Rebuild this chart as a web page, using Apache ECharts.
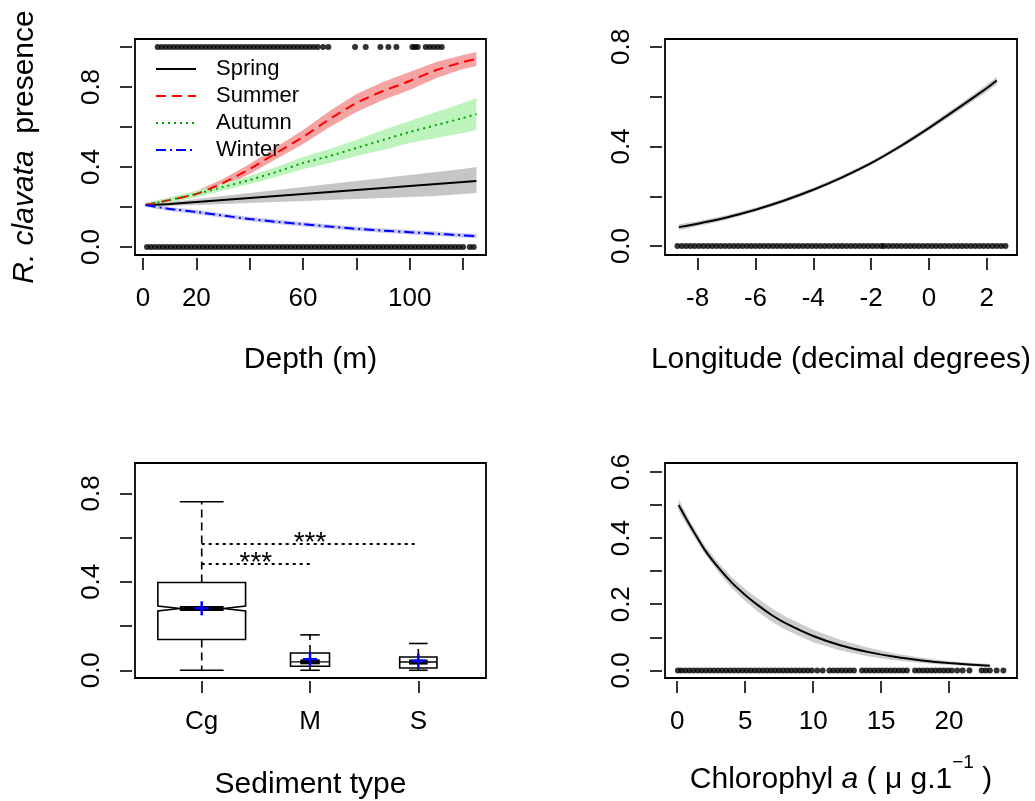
<!DOCTYPE html>
<html><head><meta charset="utf-8">
<script src="https://cdn.jsdelivr.net/npm/echarts@6/dist/echarts.min.js"></script>
<style>html,body{margin:0;padding:0;background:#fff}#c{width:1035px;height:801px}</style>
</head><body><div id="c"></div><script>
// ---------------- DATA ----------------
// Panel A: depth (m) vs presence, by season
const depthX      = [1, 10, 20, 30, 40, 50, 60, 70, 80, 90, 100, 110, 120, 125];
const springMean  = [0.21, 0.215, 0.225, 0.235, 0.245, 0.255, 0.265, 0.275, 0.285, 0.295, 0.305, 0.315, 0.325, 0.33];
const springLo    = [0.20, 0.205, 0.21, 0.215, 0.22, 0.225, 0.23, 0.235, 0.24, 0.245, 0.25, 0.255, 0.265, 0.27];
const springHi    = [0.22, 0.225, 0.24, 0.255, 0.27, 0.285, 0.30, 0.315, 0.33, 0.345, 0.36, 0.375, 0.39, 0.40];
const summerMean  = [0.21, 0.235, 0.265, 0.32, 0.39, 0.47, 0.55, 0.64, 0.72, 0.78, 0.83, 0.885, 0.925, 0.94];
const summerLo    = [0.20, 0.223, 0.25, 0.30, 0.365, 0.44, 0.515, 0.60, 0.675, 0.735, 0.785, 0.845, 0.89, 0.905];
const summerHi    = [0.22, 0.247, 0.28, 0.34, 0.415, 0.50, 0.585, 0.68, 0.765, 0.825, 0.875, 0.925, 0.96, 0.975];
const autumnMean  = [0.21, 0.235, 0.265, 0.30, 0.335, 0.375, 0.42, 0.455, 0.495, 0.535, 0.575, 0.61, 0.645, 0.665];
const autumnLo    = [0.20, 0.223, 0.25, 0.282, 0.315, 0.35, 0.39, 0.42, 0.455, 0.485, 0.52, 0.545, 0.57, 0.585];
const autumnHi    = [0.22, 0.247, 0.28, 0.318, 0.355, 0.40, 0.45, 0.49, 0.535, 0.585, 0.63, 0.675, 0.72, 0.745];
const winterMean  = [0.21, 0.19, 0.175, 0.157, 0.14, 0.126, 0.114, 0.102, 0.091, 0.082, 0.074, 0.066, 0.058, 0.055];
const winterLo    = [0.20, 0.18, 0.164, 0.146, 0.129, 0.115, 0.103, 0.091, 0.08, 0.071, 0.063, 0.055, 0.047, 0.044];
const winterHi    = [0.22, 0.20, 0.186, 0.168, 0.151, 0.137, 0.125, 0.113, 0.102, 0.093, 0.085, 0.077, 0.069, 0.066];
const depthPresent = [5.5,7,8.5,10,11.5,13,14.5,16,17.5,19,20.5,22,23.5,25,26.5,28,29.5,31,32.5,34,35.5,37,38.5,40,41.5,43,44.5,46,47.5,49,50.5,52,53.5,55,56.5,58,59.5,61,62.5,64,65.5,67.5,69.5,79.5,83.5,89,92,95,101,102,103,106,107.5,109,110.5,112];
const depthAbsent  = [1.5,3,4.5,6,7.5,9,10.5,12,13.5,15,16.5,18,19.5,21,22.5,24,25.5,27,28.5,30,31.5,33,34.5,36,37.5,39,40.5,42,43.5,45,46.5,48,49.5,51,52.5,54,55.5,57,58.5,60,61.5,63,64.5,66,67.5,69,70.5,72,73.5,75,76.5,78,79.5,81,82.5,84,85.5,87,88.5,90,91.5,93,94.5,96,97.5,99,100.5,102,103.5,105,106.5,108,109.5,111,112.5,114,115.5,117,118.5,120,122.5,124];
const depthTicks = [0, 20, 40, 60, 80, 100, 120];
const depthLabels = [0, 20, 60, 100];
const presTicks = [0, 0.2, 0.4, 0.6, 0.8, 1.0];
const presLabels = [0, 0.4, 0.8];
const seasons = ['Spring', 'Summer', 'Autumn', 'Winter'];

// Panel B: longitude
const lonX    = [-8.65, -8, -7, -6, -5, -4, -3, -2, -1, 0, 1, 2, 2.35];
const lonMean = [0.076, 0.09, 0.115, 0.146, 0.183, 0.226, 0.276, 0.333, 0.40, 0.474, 0.553, 0.634, 0.665];
const lonLo   = [0.064, 0.08, 0.106, 0.138, 0.175, 0.218, 0.268, 0.325, 0.391, 0.464, 0.541, 0.62, 0.65];
const lonHi   = [0.088, 0.10, 0.124, 0.154, 0.191, 0.234, 0.284, 0.341, 0.409, 0.484, 0.565, 0.648, 0.68];
const lonAbsent = [-8.7,-8.55,-8.4,-8.25,-8.1,-7.95,-7.8,-7.65,-7.5,-7.35,-7.2,-7.05,-6.9,-6.75,-6.6,-6.45,-6.3,-6.15,-6,-5.85,-5.7,-5.55,-5.4,-5.25,-5.1,-4.95,-4.8,-4.65,-4.5,-4.35,-4.2,-4.05,-3.9,-3.75,-3.6,-3.45,-3.3,-3.15,-3,-2.85,-2.7,-2.55,-2.4,-2.25,-2.1,-1.95,-1.8,-1.65,-1.55,-1.4,-1.25,-1.1,-0.95,-0.8,-0.65,-0.5,-0.35,-0.2,-0.05,0.1,0.25,0.4,0.55,0.7,0.85,1,1.15,1.3,1.45,1.6,1.75,1.9,2.05,2.2,2.35,2.5,2.65];
const lonTicks = [-8, -6, -4, -2, 0, 2];
const lonYTicks = [0, 0.2, 0.4, 0.6, 0.8];
const lonYLabels = [0, 0.4, 0.8];

// Panel C: sediment type boxplots [wLow, Q1, median, Q3, wHigh, mean]
const sedCats  = ['Cg', 'M', 'S'];
const sedStats = [
  [0.0, 0.139, 0.279, 0.397, 0.762, 0.28],
  [0.0, 0.018, 0.038, 0.078, 0.160, 0.05],
  [0.0, 0.010, 0.037, 0.060, 0.121, 0.043]
];
const sigPairs = [[1, 3, 0.571], [1, 2, 0.48]];   // [from cat, to cat, height]
const sigText = '***';
const sedYTicks = [0, 0.2, 0.4, 0.6, 0.8];
const sedYLabels = [0, 0.4, 0.8];

// Panel D: chlorophyll a
const chlX    = [0.1, 1, 2, 3, 4, 5, 6, 7, 8, 10, 12, 14, 16, 18, 20, 23];
const chlMean = [0.50, 0.434, 0.366, 0.312, 0.266, 0.228, 0.195, 0.166, 0.142, 0.104, 0.076, 0.056, 0.041, 0.030, 0.022, 0.014];
const chlLo   = [0.482, 0.42, 0.354, 0.298, 0.25, 0.21, 0.175, 0.146, 0.122, 0.085, 0.06, 0.043, 0.031, 0.022, 0.016, 0.01];
const chlHi   = [0.518, 0.448, 0.379, 0.327, 0.282, 0.246, 0.215, 0.186, 0.162, 0.123, 0.093, 0.069, 0.051, 0.038, 0.028, 0.019];
const chlAbsent = [0.05,0.3,0.6,0.9,1.2,1.5,1.8,2.1,2.4,2.7,3,3.3,3.6,3.9,4.2,4.5,4.8,5.1,5.4,5.7,6,6.3,6.6,6.9,7.2,7.5,7.8,8.1,8.4,8.7,9,9.3,9.6,9.9,10.3,10.7,11.2,11.5,11.8,12.1,12.4,12.7,13.0,13.6,13.9,14.2,14.5,14.8,15.1,15.4,15.7,16.0,16.3,16.6,16.9,17.5,17.8,18.1,18.4,18.7,19.0,19.3,19.6,19.9,20.2,20.6,21.0,21.5,22.4,22.7,23.0,23.5,24.0];
const chlTicks = [0, 5, 10, 15, 20];
const chlYTicks = [0, 0.1, 0.2, 0.3, 0.4, 0.5, 0.6];
const chlYLabels = [0, 0.2, 0.4, 0.6];

// ---------------- STYLE / BUILD ----------------
const FONT = "'Liberation Sans', Arial, sans-serif";
const TICK_FS = 26, TITLE_FS = 30;
const chart = echarts.init(document.getElementById('c'));

const gridBase = {show: true, borderColor: '#000', borderWidth: 1.8, backgroundColor: 'transparent', containLabel: false, outerBoundsMode: 'none'};
const grids = [
  Object.assign({left: 135, top: 39, width: 351, height: 216}, gridBase),
  Object.assign({left: 665, top: 39, width: 352, height: 216}, gridBase),
  Object.assign({left: 135, top: 463, width: 351, height: 215}, gridBase),
  Object.assign({left: 665, top: 463, width: 352, height: 215}, gridBase)
];

function xAx(g, min, max, ticks, labels, fmt, name, gap, nameStyle) {
  return {
    type: 'value', gridIndex: g, min, max, offset: 3, position: 'bottom',
    axisLine: {show: false, onZero: false}, splitLine: {show: false},
    axisTick: {show: true, length: 12, customValues: ticks, lineStyle: {color: '#000', width: 1.6}},
    axisLabel: {customValues: labels, formatter: fmt, color: '#000', fontSize: TICK_FS, fontFamily: FONT, margin: 28},
    name, nameLocation: 'middle', nameGap: gap,
    nameTextStyle: Object.assign({color: '#000', fontSize: TITLE_FS, fontFamily: FONT}, nameStyle || {})
  };
}
function yAx(g, min, max, ticks, labels, extra) {
  return Object.assign({
    type: 'value', gridIndex: g, min, max, offset: 3, position: 'left',
    axisLine: {show: false, onZero: false}, splitLine: {show: false},
    axisTick: {show: true, length: 12, customValues: ticks, lineStyle: {color: '#000', width: 1.6}},
    axisLabel: {customValues: labels, formatter: v => Number(v).toFixed(1), rotate: 90, color: '#000', fontSize: TICK_FS, fontFamily: FONT, margin: 27}
  }, extra || {});
}

const xAxes = [
  xAx(0, -3, 128.6, depthTicks, depthLabels, v => String(v), 'Depth (m)', 87),
  xAx(1, -9.13, 3.05, lonTicks, lonTicks, v => String(v), 'Longitude (decimal degrees)', 87),
  xAx(2, 0.384, 3.625, [1, 2, 3], [1, 2, 3], v => sedCats[Math.round(v) - 1], 'Sediment type', 89),
  xAx(3, -0.9, 25, chlTicks, chlTicks, v => String(v), '{n|Chlorophyl }{i|a}{n| ( \u03bc g.1}{s|\u22121}{n| )}', 72,
      {rich: {n: {fontSize: TITLE_FS, fontFamily: FONT, color: '#000', lineHeight: 42, verticalAlign: 'bottom'},
              i: {fontSize: TITLE_FS, fontFamily: FONT, fontStyle: 'italic', color: '#000', lineHeight: 42, verticalAlign: 'bottom'},
              s: {fontSize: 19, fontFamily: FONT, color: '#000', lineHeight: 22, verticalAlign: 'top'}}})
];
const yAxes = [
  yAx(0, -0.04, 1.04, presTicks, presLabels, {
    name: '{i|R. clavata}  presence', nameLocation: 'middle', nameRotate: 90, nameGap: 92,
    nameTextStyle: {color: '#000', fontSize: TITLE_FS, fontFamily: FONT,
      rich: {i: {fontStyle: 'italic', fontSize: TITLE_FS, fontFamily: FONT, color: '#000'}}}
  }),
  yAx(1, -0.036, 0.832, lonYTicks, lonYLabels),
  yAx(2, -0.035, 0.937, sedYTicks, sedYLabels),
  yAx(3, -0.023, 0.627, chlYTicks, chlYLabels)
];

const pairs = (xs, ys) => xs.map((x, i) => [x, ys[i]]);
function band(g, xs, lo, hi, color) {
  return {
    type: 'custom', xAxisIndex: g, yAxisIndex: g, silent: true, z: 1,
    data: [[xs[0], lo[0]]],
    renderItem: (params, api) => {
      const pts = xs.map((x, i) => api.coord([x, hi[i]]))
        .concat(xs.map((x, i) => api.coord([x, lo[i]])).reverse());
      return {type: 'polygon', shape: {points: pts}, style: {fill: color, stroke: null}};
    }
  };
}
function curve(g, name, xs, ys, color, type) {
  return {
    type: 'line', name, xAxisIndex: g, yAxisIndex: g, data: pairs(xs, ys),
    symbol: 'none', showSymbol: false, smooth: 0.2, silent: true, z: 3,
    lineStyle: {color, width: 2, type}, itemStyle: {color}
  };
}
function rug(g, xs, y) {
  return {
    type: 'scatter', xAxisIndex: g, yAxisIndex: g, data: xs.map(x => [x, y]),
    symbol: 'circle', symbolSize: 6, itemStyle: {color: '#000'}, silent: true, z: 4
  };
}

const BOX_HALF = [0.405, 0.18, 0.172];
const NOTCH_H = [0.011, 0, 0];
const boxSeries = {
  type: 'custom', xAxisIndex: 2, yAxisIndex: 2, silent: true, z: 3,
  data: sedStats.map((s, i) => [i + 1].concat(s)),
  renderItem: (params, api) => {
    const i = params.dataIndex;
    const x = api.value(0), wlo = api.value(1), q1 = api.value(2), med = api.value(3),
          q3 = api.value(4), whi = api.value(5), mean = api.value(6);
    const hw = BOX_HALF[i], nh = NOTCH_H[i];
    const C = (a, b) => api.coord([a, b]);
    const ls = {stroke: '#000', lineWidth: 1.6, fill: null};
    const kids = [];
    let pts;
    if (nh > 0) {
      pts = [C(x - hw, q1), C(x - hw, med - nh), C(x - hw / 2, med), C(x - hw, med + nh), C(x - hw, q3),
             C(x + hw, q3), C(x + hw, med + nh), C(x + hw / 2, med), C(x + hw, med - nh), C(x + hw, q1)];
    } else {
      pts = [C(x - hw, q1), C(x - hw, q3), C(x + hw, q3), C(x + hw, q1)];
      const a = C(x - hw, med), b = C(x + hw, med);
      kids.push({type: 'line', shape: {x1: a[0], y1: a[1], x2: b[0], y2: b[1]}, style: {stroke: '#000', lineWidth: 1.4}, z2: 1});
    }
    kids.push({type: 'polygon', shape: {points: pts}, style: {fill: '#fff', stroke: '#000', lineWidth: 1.6}, z2: 0});
    const seg = (p1, p2, st) => ({type: 'line', shape: {x1: p1[0], y1: p1[1], x2: p2[0], y2: p2[1]}, style: st, z2: 2});
    const dash = Object.assign({}, ls, {lineDash: [8, 5]});
    kids.push(seg(C(x, q3), C(x, whi), dash));
    kids.push(seg(C(x, q1), C(x, wlo), dash));
    kids.push(seg(C(x - hw / 2, whi), C(x + hw / 2, whi), ls));
    kids.push(seg(C(x - hw / 2, wlo), C(x + hw / 2, wlo), ls));
    kids.push(seg(C(x - hw / 2, med), C(x + hw / 2, med), {stroke: '#000', lineWidth: 5}));
    const m = C(x, mean);
    kids.push({type: 'line', shape: {x1: m[0] - 7, y1: m[1], x2: m[0] + 7, y2: m[1]}, style: {stroke: '#0000FF', lineWidth: 2.5}, z2: 5});
    kids.push({type: 'line', shape: {x1: m[0], y1: m[1] - 7, x2: m[0], y2: m[1] + 7}, style: {stroke: '#0000FF', lineWidth: 2.5}, z2: 5});
    return {type: 'group', children: kids};
  }
};
const sigSeries = {
  type: 'custom', xAxisIndex: 2, yAxisIndex: 2, silent: true, z: 4,
  data: sigPairs,
  renderItem: (params, api) => {
    const a = api.coord([api.value(0), api.value(2)]);
    const b = api.coord([api.value(1), api.value(2)]);
    return {type: 'group', children: [
      {type: 'line', shape: {x1: a[0], y1: a[1], x2: b[0], y2: b[1]}, style: {stroke: '#000', lineWidth: 2, lineDash: [3, 4]}},
      {type: 'text', style: {text: sigText, x: (a[0] + b[0]) / 2, y: a[1] - 1, align: 'center', verticalAlign: 'middle',
        fontSize: 28, fontFamily: FONT, fill: '#000'}}
    ]};
  }
};

const series = [
  band(0, depthX, springLo, springHi, '#C6C6C6'),
  band(0, depthX, summerLo, summerHi, '#F5A3A3'),
  band(0, depthX, autumnLo, autumnHi, '#BDF3BD'),
  band(0, depthX, winterLo, winterHi, '#C9C9F4'),
  curve(0, seasons[0], depthX, springMean, '#000000', 'solid'),
  curve(0, seasons[1], depthX, summerMean, '#FF0000', [10, 6]),
  curve(0, seasons[2], depthX, autumnMean, '#00A000', [2, 4]),
  curve(0, seasons[3], depthX, winterMean, '#0000FF', [10, 4, 2, 4]),
  rug(0, depthPresent, 1),
  rug(0, depthAbsent, 0),
  band(1, lonX, lonLo, lonHi, '#C8C8C8'),
  curve(1, 'lon', lonX, lonMean, '#000000', 'solid'),
  rug(1, lonAbsent, 0),
  boxSeries, sigSeries,
  band(3, chlX, chlLo, chlHi, '#CDCDCD'),
  curve(3, 'chl', chlX, chlMean, '#000000', 'solid'),
  rug(3, chlAbsent, 0)
];

chart.setOption({
  animation: false,
  backgroundColor: '#fff',
  textStyle: {fontFamily: FONT},
  grid: grids, xAxis: xAxes, yAxis: yAxes,
  legend: {
    data: seasons, orient: 'vertical', left: 155, top: 58, padding: 0, itemWidth: 40, itemHeight: 14, itemGap: 5,
    selectedMode: false,
    itemStyle: {opacity: 0, borderWidth: 0},
    textStyle: {fontSize: 22, fontFamily: FONT, color: '#000', padding: [0, 0, 0, 15]}
  },
  series
});
</script></body></html>
